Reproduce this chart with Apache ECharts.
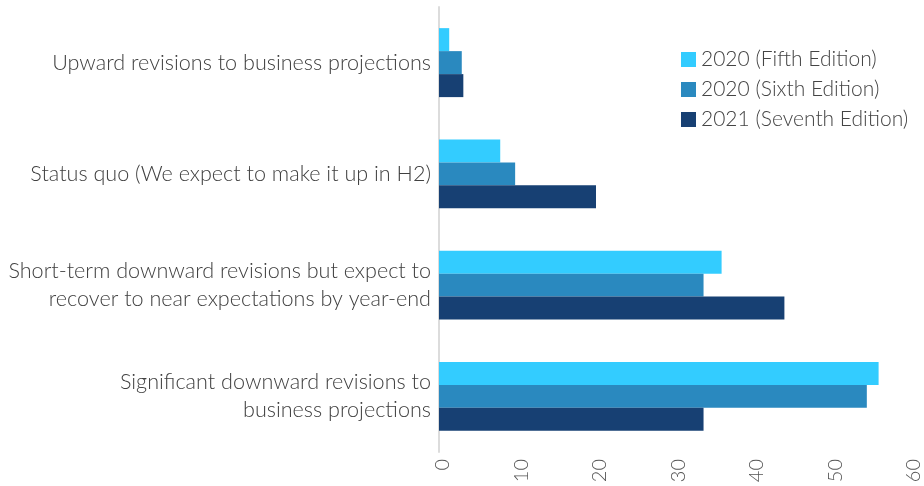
<!DOCTYPE html>
<html>
<head>
<meta charset="utf-8">
<script src="https://cdn.jsdelivr.net/npm/echarts@6/dist/echarts.min.js"></script>
<style>
  html, body { margin: 0; padding: 0; background: #fff; }
  #chart { width: 924px; height: 486px; }
</style>
</head>
<body>
<div id="chart"></div>
<script>
// Survey response categories (top to bottom)
const categories = [
  'Upward revisions to business projections',
  'Status quo (We expect to make it up in H2)',
  'Short-term downward revisions but expect to\nrecover to near expectations by year-end',
  'Significant downward revisions to\nbusiness projections'
];
const seriesNames = ['2020 (Fifth Edition)', '2020 (Sixth Edition)', '2021 (Seventh Edition)'];
const fifthEdition = [1.3, 7.8, 36, 56];
const sixthEdition = [2.9, 9.7, 33.7, 54.5];
const seventhEdition = [3.1, 20, 44, 33.7];
const xTicks = [0, 10, 20, 30, 40, 50, 60];

const colors = ['#33ccff', '#2a89bf', '#174073'];
const font = 'Lato';

const chart = echarts.init(document.getElementById('chart'));
chart.setOption({
  animation: false,
  color: colors,
  textStyle: { fontFamily: font },
  legend: {
    orient: 'vertical',
    left: 676,
    top: 44,
    itemWidth: 15,
    itemHeight: 15,
    itemGap: 9,
    icon: 'rect',
    textStyle: { fontSize: 21, lineHeight: 21, color: '#444', fontFamily: font, fontWeight: 300 },
    data: seriesNames
  },
  grid: { left: 439, right: 13, top: 7, bottom: 34, containLabel: false },
  xAxis: {
    type: 'value',
    min: xTicks[0],
    max: xTicks[xTicks.length - 1],
    interval: 10,
    axisLine: { show: false },
    axisTick: { show: false },
    splitLine: { show: false },
    axisLabel: {
      rotate: 90,
      fontSize: 20,
      color: '#555',
      fontFamily: font,
      fontWeight: 300,
      margin: 7,
      verticalAlign: 'top',
      lineHeight: 8
    }
  },
  yAxis: {
    type: 'category',
    inverse: true,
    data: categories,
    axisLine: { show: true, lineStyle: { color: '#dcdcdc', width: 2 } },
    axisTick: { show: false },
    axisLabel: {
      fontSize: 21.6,
      color: '#404040',
      fontFamily: font,
      fontWeight: 300,
      lineHeight: 28,
      margin: 8,
      align: 'right'
    }
  },
  series: [
    { name: seriesNames[0], type: 'bar', data: fifthEdition, barGap: '0%', barCategoryGap: '38%' },
    { name: seriesNames[1], type: 'bar', data: sixthEdition, barGap: '0%', barCategoryGap: '38%' },
    { name: seriesNames[2], type: 'bar', data: seventhEdition, barGap: '0%', barCategoryGap: '38%' }
  ]
});
</script>
</body>
</html>
